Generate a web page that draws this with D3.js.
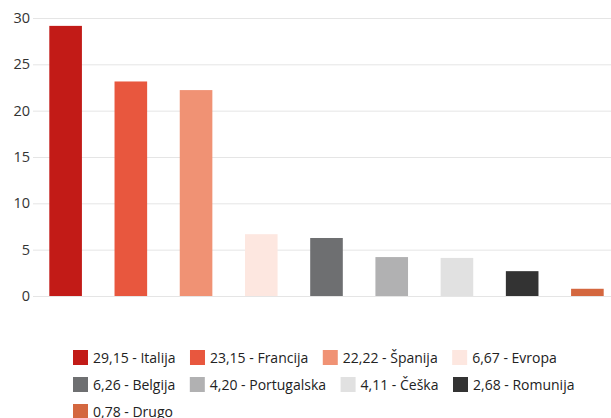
<!DOCTYPE html>
<html>
<head>
<meta charset="utf-8">
<script src="https://cdn.jsdelivr.net/npm/d3@7"></script>
<style>
  body { margin: 0; background: #fff; }
  text { font-family: "Open Sans", "Noto Sans", sans-serif; }
</style>
</head>
<body>
<div id="chart"></div>
<script>
// data
const countries = ["Italija", "Francija", "Španija", "Evropa", "Belgija", "Portugalska", "Češka", "Romunija", "Drugo"];
const shares = [29.15, 23.15, 22.22, 6.67, 6.26, 4.20, 4.11, 2.68, 0.78];
const colors = ["#c21b17", "#e8573e", "#f09274", "#fde7e0", "#6e6f71", "#b1b1b2", "#e1e1e1", "#333333", "#d4673f"];
const yTicks = [0, 5, 10, 15, 20, 25, 30];

const width = 611, height = 418;
const svg = d3.select("#chart").append("svg")
  .attr("width", width)
  .attr("height", height);

const data = countries.map((c, i) => ({ name: c, value: shares[i], color: colors[i] }));

//scale
const xScale = d3.scaleBand()
  .domain(countries)
  .range([33, 620])
  .paddingInner(0.5)
  .paddingOuter(0.25);
const yScale = d3.scaleLinear()
  .domain([0, 30])
  .range([296, 18]);

//grid
svg.append("g")
  .selectAll("line")
  .data(yTicks)
  .join("line")
  .attr("x1", 33)
  .attr("x2", width)
  .attr("y1", d => yScale(d) + 0.5)
  .attr("y2", d => yScale(d) + 0.5)
  .attr("stroke", "#e5e5e5")
  .attr("stroke-width", 1);

//y axis labels
const yAxis = svg.append("g")
  .attr("transform", "translate(30,0)")
  .call(d3.axisLeft(yScale).tickValues(yTicks).tickSize(0).tickPadding(0));
yAxis.select(".domain").remove();
yAxis.selectAll("text")
  .attr("fill", "#333")
  .style("font-size", "14.5px")
  .style("font-family", '"Open Sans", sans-serif');

//bars
svg.append("g")
  .selectAll("rect")
  .data(data)
  .join("rect")
  .attr("x", d => xScale(d.name))
  .attr("y", d => yScale(d.value))
  .attr("width", xScale.bandwidth())
  .attr("height", d => yScale(0) - yScale(d.value))
  .attr("fill", d => d.color);

//legend (flow layout)
const fmt = v => v.toFixed(2).replace(".", ",");
const legend = svg.append("g");
const left = 73, maxRight = 600, rowH = 27, sw = 15;
let x = left, y = 350;
data.forEach(d => {
  const item = legend.append("g");
  item.append("rect")
    .attr("width", sw)
    .attr("height", sw)
    .attr("fill", d.color);
  const t = item.append("text")
    .attr("x", sw + 5)
    .attr("y", 13)
    .attr("fill", "#222")
    .style("font-size", "14px")
    .text(`${fmt(d.value)} - ${d.name}`);
  const w = sw + 5 + t.node().getComputedTextLength();
  if (x + w > maxRight && x > left) {
    x = left;
    y += rowH;
  }
  item.attr("transform", `translate(${x},${y})`);
  x += w + 14.5;
});
</script>
</body>
</html>
